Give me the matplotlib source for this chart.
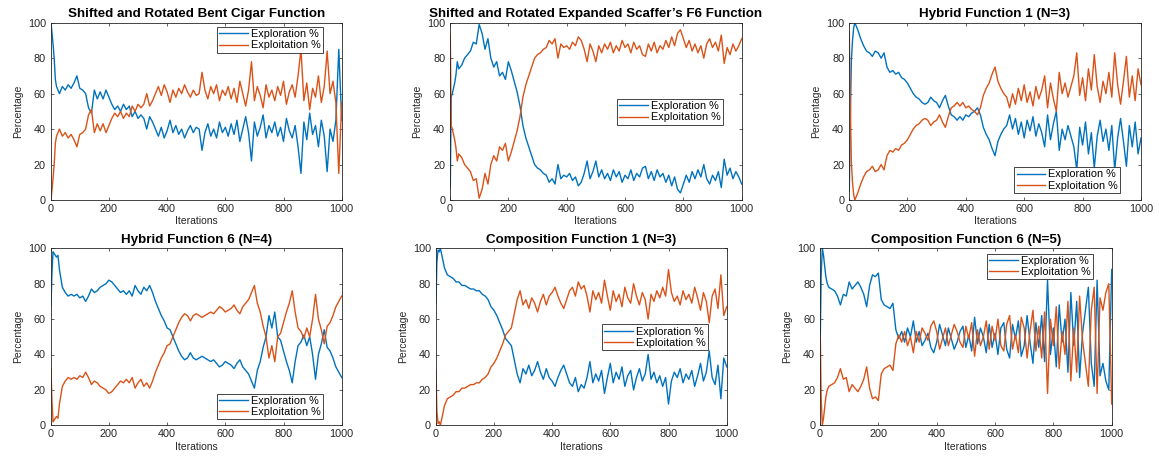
#!/usr/bin/env python3
"""
Exploration / exploitation percentage over iterations, six CEC test functions
"""
import matplotlib
matplotlib.use("Agg")
import matplotlib.pyplot as plt

BLUE   = "#0072BD"
ORANGE = "#D95319"
DARK   = "#262626"

plt.rcParams["font.family"] = ["Liberation Sans", "DejaVu Sans"]

ITER = [1, 4, 8, 12, 16, 20, 25, 30] + list(range(40, 1001, 10))

TITLES = [
    "Shifted and Rotated Bent Cigar Function",
    "Shifted and Rotated Expanded Scaffer\u2019s F6 Function",
    "Hybrid Function 1 (N=3)",
    "Hybrid Function 6 (N=4)",
    "Composition Function 1 (N=3)",
    "Composition Function 6 (N=5)",
]

# exploration % per panel (exploitation % is the rest up to 100)
EXPLORE_BENT_CIGAR = [
    100, 95, 88, 80, 68, 64, 62, 60,
    64, 62, 65, 63, 66, 70, 63, 62, 60, 52,
    49, 62, 57, 61, 57, 62, 58, 54, 51, 53,
    50, 54, 51, 53, 47, 50, 46, 48, 46, 40,
    47, 44, 40, 36, 41, 35, 39, 45, 38, 42,
    37, 40, 35, 39, 42, 38, 41, 40, 28, 38,
    43, 36, 40, 35, 44, 38, 41, 36, 43, 37,
    45, 33, 40, 47, 38, 22, 44, 36, 41, 48,
    35, 42, 38, 44, 36, 41, 33, 46, 39, 35,
    42, 30, 15, 44, 34, 49, 37, 42, 30, 45,
    36, 16, 40, 33, 45, 85, 45,
]
EXPLORE_SCAFFER = [
    7, 58, 60, 63, 66, 70, 78, 74,
    76, 80, 82, 84, 89, 88, 99, 94, 85, 91,
    80, 75, 78, 70, 72, 68, 78, 73, 67, 61,
    53, 42, 35, 30, 25, 20, 18, 17, 15, 14,
    10, 12, 9, 20, 12, 14, 13, 15, 11, 13,
    8, 10, 15, 22, 12, 16, 22, 13, 17, 12,
    15, 11, 17, 13, 16, 10, 14, 12, 17, 11,
    15, 13, 18, 19, 12, 16, 11, 17, 13, 15,
    10, 14, 8, 13, 6, 4, 9, 14, 10, 16,
    12, 17, 13, 20, 12, 9, 14, 11, 16, 7,
    23, 14, 18, 12, 16, 13, 9,
]
EXPLORE_HYBRID1 = [
    5, 40, 78, 90, 97, 100, 98, 96,
    91, 87, 84, 83, 81, 84, 83, 80, 83, 75,
    72, 73, 71, 72, 69, 68, 66, 63, 60, 58,
    57, 55, 54, 55, 58, 56, 55, 52, 56, 59,
    53, 48, 47, 45, 47, 45, 48, 47, 49, 50,
    52, 48, 41, 37, 34, 29, 25, 33, 37, 40,
    42, 48, 40, 46, 37, 44, 35, 45, 39, 47,
    36, 43, 38, 30, 48, 34, 43, 50, 28, 40,
    34, 42, 36, 30, 17, 41, 31, 44, 26, 38,
    18, 36, 45, 33, 40, 28, 42, 17, 35, 46,
    33, 19, 42, 30, 44, 26, 35,
]
EXPLORE_HYBRID6 = [
    68, 85, 98, 97, 96, 95, 96, 88,
    78, 75, 73, 74, 73, 74, 72, 73, 70, 73,
    77, 75, 76, 78, 79, 80, 82, 81, 79, 77,
    75, 76, 74, 76, 73, 79, 76, 74, 78, 76,
    79, 75, 70, 66, 62, 59, 55, 54, 50, 46,
    42, 39, 37, 38, 41, 38, 37, 38, 39, 38,
    37, 36, 37, 35, 33, 34, 36, 35, 34, 32,
    35, 37, 33, 31, 29, 25, 21, 31, 36, 44,
    50, 62, 55, 64, 50, 48, 42, 36, 31, 24,
    36, 45, 47, 51, 45, 50, 40, 26, 40, 46,
    54, 44, 42, 38, 33, 30, 27,
]
EXPLORE_COMP1 = [
    69, 92, 99, 98, 100, 97, 93, 89,
    85, 84, 83, 81, 81, 79, 79, 78, 77, 77,
    76, 76, 74, 73, 71, 67, 65, 62, 58, 54,
    49, 47, 45, 37, 29, 24, 32, 29, 34, 28,
    31, 36, 30, 26, 32, 27, 25, 22, 27, 31,
    34, 29, 24, 22, 27, 19, 23, 21, 27, 36,
    24, 29, 25, 31, 18, 27, 35, 24, 30, 26,
    33, 22, 28, 31, 20, 27, 32, 25, 29, 40,
    26, 30, 24, 28, 22, 27, 12, 25, 30, 27,
    32, 24, 29, 26, 31, 22, 28, 35, 25, 30,
    42, 27, 23, 34, 15, 38, 33,
]
EXPLORE_COMP6 = [
    50, 85, 100, 96, 90, 84, 80, 78,
    77, 76, 73, 68, 74, 73, 81, 77, 79, 81,
    78, 74, 67, 79, 85, 84, 86, 71, 68, 67,
    66, 69, 54, 49, 53, 47, 55, 50, 59, 47,
    53, 45, 48, 52, 44, 41, 47, 57, 51, 45,
    55, 49, 43, 47, 53, 56, 44, 51, 42, 61,
    46, 55, 50, 41, 57, 44, 52, 40, 55, 58,
    43, 38, 57, 49, 59, 39, 45, 62, 47, 35,
    58, 44, 62, 36, 82, 40, 55, 33, 68, 47,
    60, 30, 75, 45, 70, 27, 52, 65, 78, 35,
    22, 82, 28, 35, 25, 20, 88,
]

EXPLORE = [EXPLORE_BENT_CIGAR, EXPLORE_SCAFFER, EXPLORE_HYBRID1,
           EXPLORE_HYBRID6, EXPLORE_COMP1, EXPLORE_COMP6]

W, H = 1159, 457
# axes boxes in pixels: left, top, right, bottom
BOXES = [
    (50.7, 22.7, 341.7, 200.0),
    (450.0, 22.7, 741.7, 200.0),
    (849.0, 22.7, 1141.0, 200.0),
    (50.7, 248.3, 341.7, 425.3),
    (435.7, 248.3, 726.7, 425.3),
    (820.0, 248.3, 1111.7, 425.3),
]
# legend anchor (axes fraction) and loc
LEGENDS = [
    ("upper right", (0.935, 0.976)),
    ("upper right", (0.935, 0.57)),
    ("lower right", (0.928, 0.04)),
    ("lower right", (0.935, 0.034)),
    ("upper right", (0.935, 0.57)),
    ("upper right", (0.935, 0.97)),
]


def render(out="out.png"):
    fig = plt.figure(figsize=(W / 100, H / 100), dpi=100)
    fig.patch.set_facecolor("white")

    for title, expl, box, (loc, anchor) in zip(TITLES, EXPLORE, BOXES, LEGENDS):
        l, t, r, b = box
        ax = fig.add_axes([l / W, 1 - b / H, (r - l) / W, (b - t) / H])
        exploit = [100 - v for v in expl]

        ax.plot(ITER, expl, color=BLUE, lw=1.0, label="Exploration %")
        ax.plot(ITER, exploit, color=ORANGE, lw=1.0, label="Exploitation %")

        ax.set_xlim(0, 1000)
        ax.set_ylim(0, 100)
        ax.set_xticks(range(0, 1001, 200))
        ax.set_yticks(range(0, 101, 20))
        ax.tick_params(direction="in", top=True, right=True, length=2.5,
                       width=0.5, labelsize=7.8, colors=DARK)
        ax.tick_params(axis="x", pad=3)
        ax.tick_params(axis="y", pad=3.5)
        for sp in ax.spines.values():
            sp.set_color(DARK)
            sp.set_linewidth(0.6)

        ax.set_title(title, fontsize=9.6, fontweight="bold", pad=4, color="black")
        ax.set_xlabel("Iterations", fontsize=7.5, color=DARK, labelpad=1.5)
        ax.set_ylabel("Percentage", fontsize=7.5, color=DARK, labelpad=3.5)

        leg = ax.legend(loc=loc, bbox_to_anchor=anchor, borderaxespad=0,
                        fontsize=7.8, fancybox=False, framealpha=1,
                        handlelength=2.6, handletextpad=0.3,
                        borderpad=0.2, labelspacing=0.12)
        leg.get_frame().set_edgecolor(DARK)
        leg.get_frame().set_linewidth(0.6)

    fig.savefig(out, dpi=100, facecolor="white")
    plt.close(fig)


if __name__ == "__main__":
    render()
